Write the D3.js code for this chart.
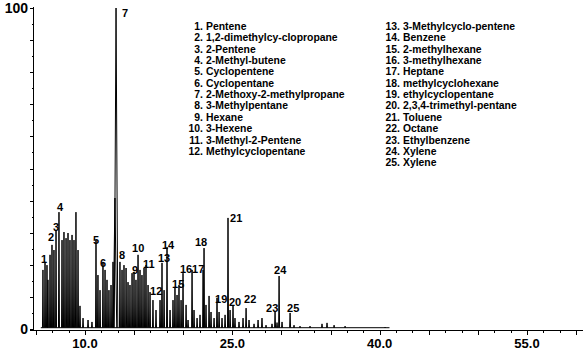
<!DOCTYPE html>
<html>
<head>
<meta charset="utf-8">
<script src="https://cdn.jsdelivr.net/npm/d3@7"></script>
<style>
  body { margin: 0; background: #fff; }
  svg text { font-family: "Liberation Sans", Arial, sans-serif; font-weight: bold; fill: #000; }
</style>
</head>
<body>
<div id="chart"></div>
<script>
// retention times (min) and relative abundance (%)
const peakTimes = [5.72, 5.93, 6.13, 6.23, 6.44, 6.64, 6.84, 7.05, 7.35, 7.66, 7.86, 8.07, 8.27, 8.47, 8.68, 8.88, 9.08, 9.29, 9.49, 9.80,
  10.31, 10.71, 11.12, 11.32, 11.53, 11.83, 12.04, 12.24, 12.44, 12.65, 12.85, 13.05, 13.16, 13.56, 13.77, 13.97, 14.18, 14.38, 14.58, 14.79,
  14.99, 15.19, 15.40, 15.60, 15.80, 16.01, 16.21, 16.42, 16.62, 16.92, 17.23, 17.64, 17.84, 18.05, 18.35, 18.66, 18.96, 19.16, 19.37, 19.57,
  19.78, 19.98, 20.29, 20.49, 20.90, 21.10, 21.41, 21.71, 22.02, 22.12, 22.32, 22.63, 22.83, 23.14, 23.44, 23.65, 23.95, 24.26, 24.56, 24.77,
  25.07, 25.27, 25.68, 26.09, 26.40, 26.70, 27.21, 27.62, 28.02, 28.43, 29.04, 29.35, 29.55, 29.76, 30.06, 30.88, 31.28, 31.89, 32.91, 34.13,
  34.64, 35.36, 36.48, 40.55];
const peakHeights = [18.4, 20.9, 19.9, 15.3, 23.1, 26.2, 24.6, 30.8, 36.4, 27.7, 30.2, 28.3, 29.9, 27.7, 29.3, 27.7, 36.4, 24.6, 7.2, 3.4,
  2.8, 2.2, 27.7, 16.8, 12.1, 20.9, 18.4, 15.3, 12.1, 13.7, 20.9, 40.8, 100, 20.9, 18.4, 19.9, 19.0, 14.6, 13.7, 17.4,
  17.8, 15.3, 23.1, 18.4, 16.8, 19.0, 19.9, 13.7, 11.5, 9.0, 5.9, 9.0, 20.6, 12.1, 25.5, 5.9, 9.0, 12.8, 10.6, 13.7,
  9.0, 17.4, 7.5, 2.8, 18.4, 5.9, 3.4, 4.4, 18.4, 25.2, 7.5, 10.3, 5.3, 3.4, 9.7, 5.3, 3.4, 4.4, 34.6, 5.9,
  7.2, 3.4, 2.2, 3.4, 6.5, 2.8, 1.6, 2.8, 3.4, 1.2, 1.6, 5.3, 2.0, 16.5, 2.2, 5.0, 1.2, 0.9, 0.9, 1.6,
  1.9, 1.2, 0.9, 0.6];
// half widths of the peaks at the base (min)
const peakWidths = peakTimes.map(t => (t > 12.9 && t < 13.3) ? 0.18 : 0.05);
const baselineRange = [5.5, 41];

// peak number labels: text, time, abundance of the label anchor
const labelText = ["1","2","3","4","5","6","7","8","9","10","11","12","13","14","15","16","17","18","19","20","21","22","23","24","25"];
const labelTimes = [5.52, 6.23, 6.74, 7.15, 10.81, 11.53, 13.77, 13.46, 14.79, 14.79, 15.91, 16.62, 17.43, 17.84, 18.86, 19.67, 20.90, 21.20, 23.24, 24.66, 24.77, 26.19, 28.43, 29.25, 30.57];
const labelLevels = [20.6, 27.4, 30.5, 36.8, 26.5, 19.3, 97.2, 21.8, 17.1, 24.0, 19.0, 10.6, 20.9, 24.9, 12.8, 17.4, 17.4, 25.9, 8.1, 7.2, 33.3, 8.1, 5.3, 17.1, 5.3];

const compounds = ["Pentene", "1,2-dimethylcy-clopropane", "2-Pentene", "2-Methyl-butene", "Cyclopentene", "Cyclopentane",
  "2-Methoxy-2-methylpropane", "3-Methylpentane", "Hexane", "3-Hexene", "3-Methyl-2-Pentene", "Methylcyclopentane",
  "3-Methylcyclo-pentene", "Benzene", "2-methylhexane", "3-methylhexane", "Heptane", "methylcyclohexane",
  "ethylcyclopentane", "2,3,4-trimethyl-pentane", "Toluene", "Octane", "Ethylbenzene", "Xylene", "Xylene"];

const xTickLabels = [10, 25, 40, 55];
const yTickLabels = [0, 100];

const width = 583, height = 352;
const svg = d3.select('#chart').append('svg')
  .attr('width', width).attr('height', height);
svg.append('rect').attr('width', width).attr('height', height).attr('fill', '#fff');

const x = d3.scaleLinear().domain([10, 55]).range([85, 527]);
const y = d3.scaleLinear().domain([0, 100]).range([329, 8]);

// axes
const axisG = svg.append('g').attr('stroke', '#000').attr('stroke-width', 1).attr('shape-rendering', 'crispEdges');
axisG.append('line').attr('x1', 30).attr('x2', 583).attr('y1', 330.5).attr('y2', 330.5);
axisG.append('line').attr('x1', 33.5).attr('x2', 33.5).attr('y1', 7).attr('y2', 331);

const xMinor = d3.range(10 - 5 / 3 * 3, 61, 5 / 3);
axisG.selectAll('.xt').data(xMinor).join('line')
  .attr('x1', d => Math.round(x(d)) + 0.5).attr('x2', d => Math.round(x(d)) + 0.5)
  .attr('y1', 330).attr('y2', d => Math.abs(d / 5 - Math.round(d / 5)) < 1e-6 ? 335 : 333);

const yMinor = d3.range(0, 101, 5);
axisG.selectAll('.yt').data(yMinor).join('line')
  .attr('y1', d => Math.round(y(d)) + 0.5).attr('y2', d => Math.round(y(d)) + 0.5)
  .attr('x1', d => d % 10 === 0 ? 30 : 32).attr('x2', 33);

svg.selectAll('.xl').data(xTickLabels).join('text')
  .attr('x', d => x(d)).attr('y', 348)
  .attr('text-anchor', 'middle').attr('font-size', 13)
  .text(d => d.toFixed(1));
svg.selectAll('.yl').data(yTickLabels).join('text')
  .attr('x', 28).attr('y', d => y(d) + 5)
  .attr('text-anchor', 'end').attr('font-size', 14)
  .text(d => d);

// trace
const line = d3.line().x(d => x(d[0])).y(d => y(d[1]));
const trace = svg.append('g').attr('fill', 'none').attr('stroke', '#000').attr('stroke-width', 1);
trace.append('path').attr('d', line(baselineRange.map(t => [t, 0.4])));
trace.selectAll('.pk').data(peakTimes).join('path')
  .attr('d', (t, i) => line([[t - peakWidths[i], 0.4], [t, peakHeights[i]], [t + peakWidths[i], 0.4]]));

// peak labels
svg.selectAll('.lab').data(labelText).join('text')
  .attr('x', (d, i) => x(labelTimes[i])).attr('y', (d, i) => y(labelLevels[i]))
  .attr('font-size', 11)
  .text(d => d);

// compound list
const legend = svg.append('g').attr('font-size', 10.4);
compounds.forEach((name, i) => {
  const col = i < 12 ? 0 : 1;
  const row = i < 12 ? i : i - 12;
  const nx = col === 0 ? 203 : 400;
  const ty = 30 + row * 11.35;
  legend.append('text').attr('x', nx).attr('y', ty).attr('text-anchor', 'end').text((i + 1) + '.');
  legend.append('text').attr('x', nx + 3).attr('y', ty).text(name);
});
</script>
</body>
</html>
